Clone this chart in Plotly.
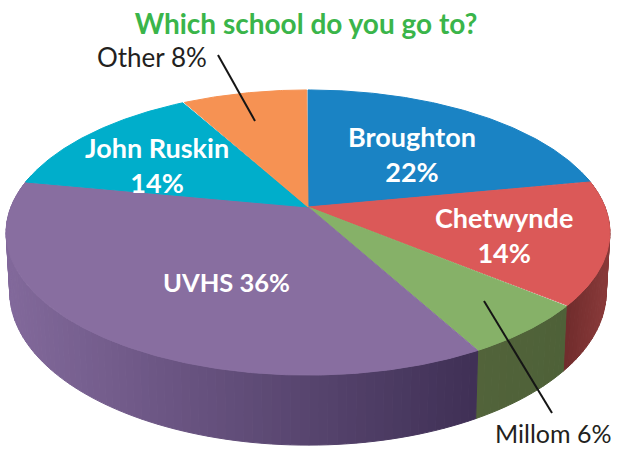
import numpy as np
import plotly.graph_objects as go

# --- data ---
schools = ["Broughton", "Chetwynde", "Millom", "UVHS", "John Ruskin", "Other"]
shares = [22, 14, 6, 36, 14, 8]
top_colors = ["#1a83c4", "#db5958", "#86b168", "#886ea0", "#00aecb", "#f69253"]
side_left = ["#0f5c8c", "#702c2c", "#52633a", "#82699b", "#007f94", "#b06a3a"]
side_right = ["#0f5c8c", "#8a3a3a", "#4e6138", "#3f3055", "#007f94", "#b06a3a"]
title_text = "Which school do you go to?"

# --- view geometry of the tilted disc ---
CX, CY, RX, RY, K, DEPTH, BOTTOM_X = 308, 207, 297, 138, 0.179, 57.5, 0.988
STEP = 1.5  # degrees per polygon step


def project(deg, bottom=False):
    t = np.radians(deg)
    s = 1 / (1 + K * np.cos(t))
    x = RX * np.sin(t) * s
    y = -RY * np.cos(t) * s
    if bottom:
        return CX + x * BOTTOM_X, CY + y + DEPTH * s
    return CX + x, CY + y


def mix(c1, c2, f):
    a = [int(c1[i:i + 2], 16) for i in (1, 3, 5)]
    b = [int(c2[i:i + 2], 16) for i in (1, 3, 5)]
    return "rgb({},{},{})".format(*[round(p + (q - p) * f) for p, q in zip(a, b)])


fig = go.Figure()
edges = np.concatenate([[0], np.cumsum(shares)]) * 3.6

# side wall, in narrow bands so that the shading can change along it
for i in range(len(shares)):
    a0, a1 = edges[i], edges[i + 1]
    n = max(1, int((a1 - a0) / STEP))
    grid = np.linspace(a0, a1, n + 1)
    shown = [g for g in grid if np.cos(np.radians(g)) <= 0.25]
    if len(shown) < 2:
        continue
    xs = project(np.array(shown))[0]
    span = max(1e-6, xs.max() - xs.min())
    for j in range(n):
        if np.cos(np.radians((grid[j] + grid[j + 1]) / 2)) > 0.25:
            continue
        xa, ya = project(grid[j])
        xb, yb = project(grid[j + 1])
        xc, yc = project(grid[j + 1], True)
        xd, yd = project(grid[j], True)
        f = float(((xa + xb) / 2 - xs.min()) / span)
        col = mix(side_left[i], side_right[i], f)
        fig.add_trace(go.Scatter(x=[xa, xb, xc, xd, xa], y=[ya, yb, yc, yd, ya],
                                 mode="lines", fill="toself", fillcolor=col,
                                 line=dict(color=col, width=1), hoverinfo="skip"))

# top face
for i, name in enumerate(schools):
    grid = np.arange(edges[i], edges[i + 1] + 0.01, 0.5)
    px, py = project(grid)
    fig.add_trace(go.Scatter(x=np.r_[CX, px, CX], y=np.r_[CY, py, CY],
                             mode="lines", fill="toself", fillcolor=top_colors[i],
                             line=dict(color=top_colors[i], width=1),
                             name=name, hoverinfo="name"))

FONT = "Lato, Carlito, sans-serif"
inside = [("Broughton<br>22%", 412, 154, 27),
          ("Chetwynde<br>14%", 504, 235, 27),
          ("UVHS 36%", 226, 282, 25.5),
          ("John Ruskin<br>14%", 157, 165, 27)]
outside = [("Other 8%", 152, 57, 26), ("Millom 6%", 553, 433, 25)]
anns = [dict(x=x, y=y, text=f"<b>{t}</b>", showarrow=False, xref="x", yref="y",
             font=dict(family=FONT, size=s, color="white"), align="center")
        for t, x, y, s in inside]
anns += [dict(x=x, y=y, text=t, showarrow=False, xref="x", yref="y",
              font=dict(family=FONT, size=s, color="#231f20"))
         for t, x, y, s in outside]

leaders = [(218, 55, 255, 121), (484, 301, 552, 413)]
shapes = [dict(type="line", x0=a, y0=b, x1=c, y1=d, xref="x", yref="y",
               line=dict(color="#151515", width=2)) for a, b, c, d in leaders]

fig.update_layout(
    width=617, height=451, margin=dict(l=0, r=0, t=0, b=0),
    paper_bgcolor="white", plot_bgcolor="white", showlegend=False,
    xaxis=dict(range=[0, 617], visible=False, fixedrange=True),
    yaxis=dict(range=[451, 0], visible=False, fixedrange=True),
    title=dict(text=f"<b>{title_text}</b>", x=306 / 617, xanchor="center",
               y=1 - 24 / 451, yanchor="middle",
               font=dict(family=FONT, size=28, color="#3ab54a")),
    annotations=anns, shapes=shapes,
)

fig.write_html("out.html", config=dict(displayModeBar=False),
               post_script="document.body.style.margin='0';")
